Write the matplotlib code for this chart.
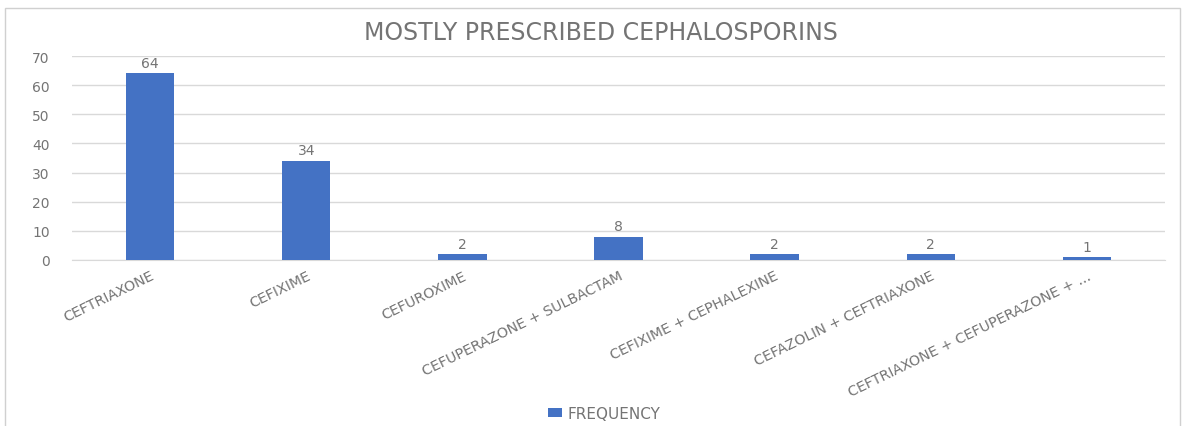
import matplotlib.pyplot as plt
from matplotlib.patches import Rectangle

# cephalosporin prescriptions
drugs = ["CEFTRIAXONE", "CEFIXIME", "CEFUROXIME", "CEFUPERAZONE + SULBACTAM",
         "CEFIXIME + CEPHALEXINE", "CEFAZOLIN + CEFTRIAXONE",
         "CEFTRIAXONE + CEFUPERAZONE + ..."]
frequency = [64, 34, 2, 8, 2, 2, 1]
y_ticks = [0, 10, 20, 30, 40, 50, 60, 70]

bar_color = "#4472C4"
text_color = "#747474"
grid_color = "#D9D9D9"

fig = plt.figure(figsize=(11.87, 4.27), dpi=100)
ax = fig.add_axes([0.0607, 0.3888, 0.9208, 0.4777])

x = range(len(drugs))
bars = ax.bar(x, frequency, width=0.31, color=bar_color, label="FREQUENCY", zorder=3)

# value labels above each bar
for xi, v in zip(x, frequency):
    ax.text(xi, v + 1.2, str(v), ha="center", va="bottom", fontsize=10, color=text_color)

ax.set_xlim(-0.5, len(drugs) - 0.5)
ax.set_ylim(0, 70)
ax.set_yticks(y_ticks)
ax.tick_params(axis="y", length=0, labelsize=10, labelcolor=text_color, pad=16)
ax.tick_params(axis="x", length=0, pad=6)
ax.set_xticks(list(x))
ax.set_xticklabels(drugs, rotation=26, ha="right", rotation_mode="anchor",
                   fontsize=10.3, color=text_color)

ax.grid(axis="y", color=grid_color, linewidth=1, zorder=0)
for side in ["top", "right", "left"]:
    ax.spines[side].set_visible(False)
ax.spines["bottom"].set_color(grid_color)

fig.text(0.506, 0.922, "MOSTLY PRESCRIBED CEPHALOSPORINS", ha="center", va="center",
         fontsize=17, color=text_color)

fig.legend(handles=[bars], labels=["FREQUENCY"], loc="center", bbox_to_anchor=(0.509, 0.03),
           frameon=False, fontsize=11, labelcolor=text_color, handlelength=0.9,
           handleheight=0.5, handletextpad=0.4)

# chart border
fig.patches.append(Rectangle((0.004, -0.01), 0.99, 0.99, transform=fig.transFigure,
                             fill=False, edgecolor="#D0D0D0", linewidth=1))

fig.savefig("out.png", dpi=100)
